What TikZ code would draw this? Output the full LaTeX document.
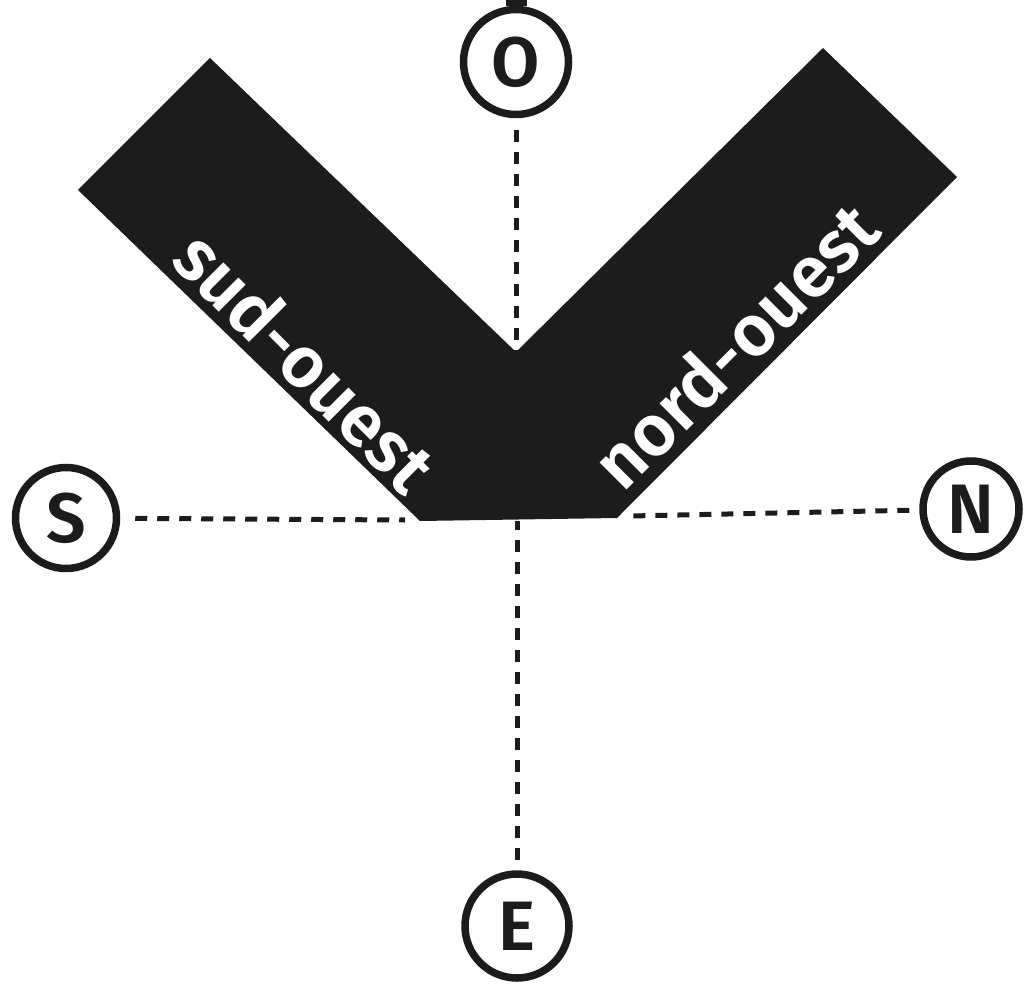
\documentclass[tikz,border=0pt]{standalone}
\usepackage{fontspec}
\IfFontExistsTF{Fira Sans SemiBold}
  {\setmainfont{Fira Sans}[BoldFont={Fira Sans SemiBold}]}
  {\setmainfont{Fira Sans}}
\definecolor{ink}{RGB}{28,28,28}
\tikzset{
  pole/.style={circle,draw=ink,line width=7.5pt,minimum size=#1,inner sep=0pt,
    text=ink,font=\fontsize{70}{72}\selectfont\bfseries},
  pole/.default=104pt,
  arm/.style={text=white,inner sep=0pt,font=\fontsize{72}{74}\selectfont\bfseries},
  axis/.style={draw=ink,line width=5pt,dash pattern=on 12pt off 10pt,shorten <=#1},
  axis/.default=14pt
}

\begin{document}
\begin{tikzpicture}[x=1pt,y=-1pt]
  \useasboundingbox (0,0) rectangle (1030,984);
  \clip (0,0) rectangle (1030,984);
  % le V
  \fill[ink] (78,190) -- (210,58) -- (516,352) coordinate (creux) -- (823,48)
    -- (957,177) -- (617,518) -- (420,521) -- cycle;
  \coordinate (pied) at (517,521);
  \coordinate (pied-s) at (405,520);
  \coordinate (pied-n) at (630,516);
  \node[arm,rotate=-45] (sud) at (306,361) {sud-ouest};
  \node[arm,rotate=45] (nord) at (735,345) {nord-ouest};
  % points cardinaux
  \node[pole=105pt] (O) at (516,62) {O};
  \node[pole=101pt] (S) at (66,518) {S};
  \node[pole=96pt] (N) at (971,509) {N};
  \node[pole=104pt] (E) at (517,926) {E};
  \draw[ink,line width=21pt] (O.north) -- ++(0,-20);
  \draw[axis=12pt] (O) -- (creux);
  \draw[axis=15pt] (S) -- (pied-s);
  \draw[axis=10pt] (N) -- (pied-n);
  \draw[axis=10pt] (E) -- (pied);
\end{tikzpicture}
\end{document}
